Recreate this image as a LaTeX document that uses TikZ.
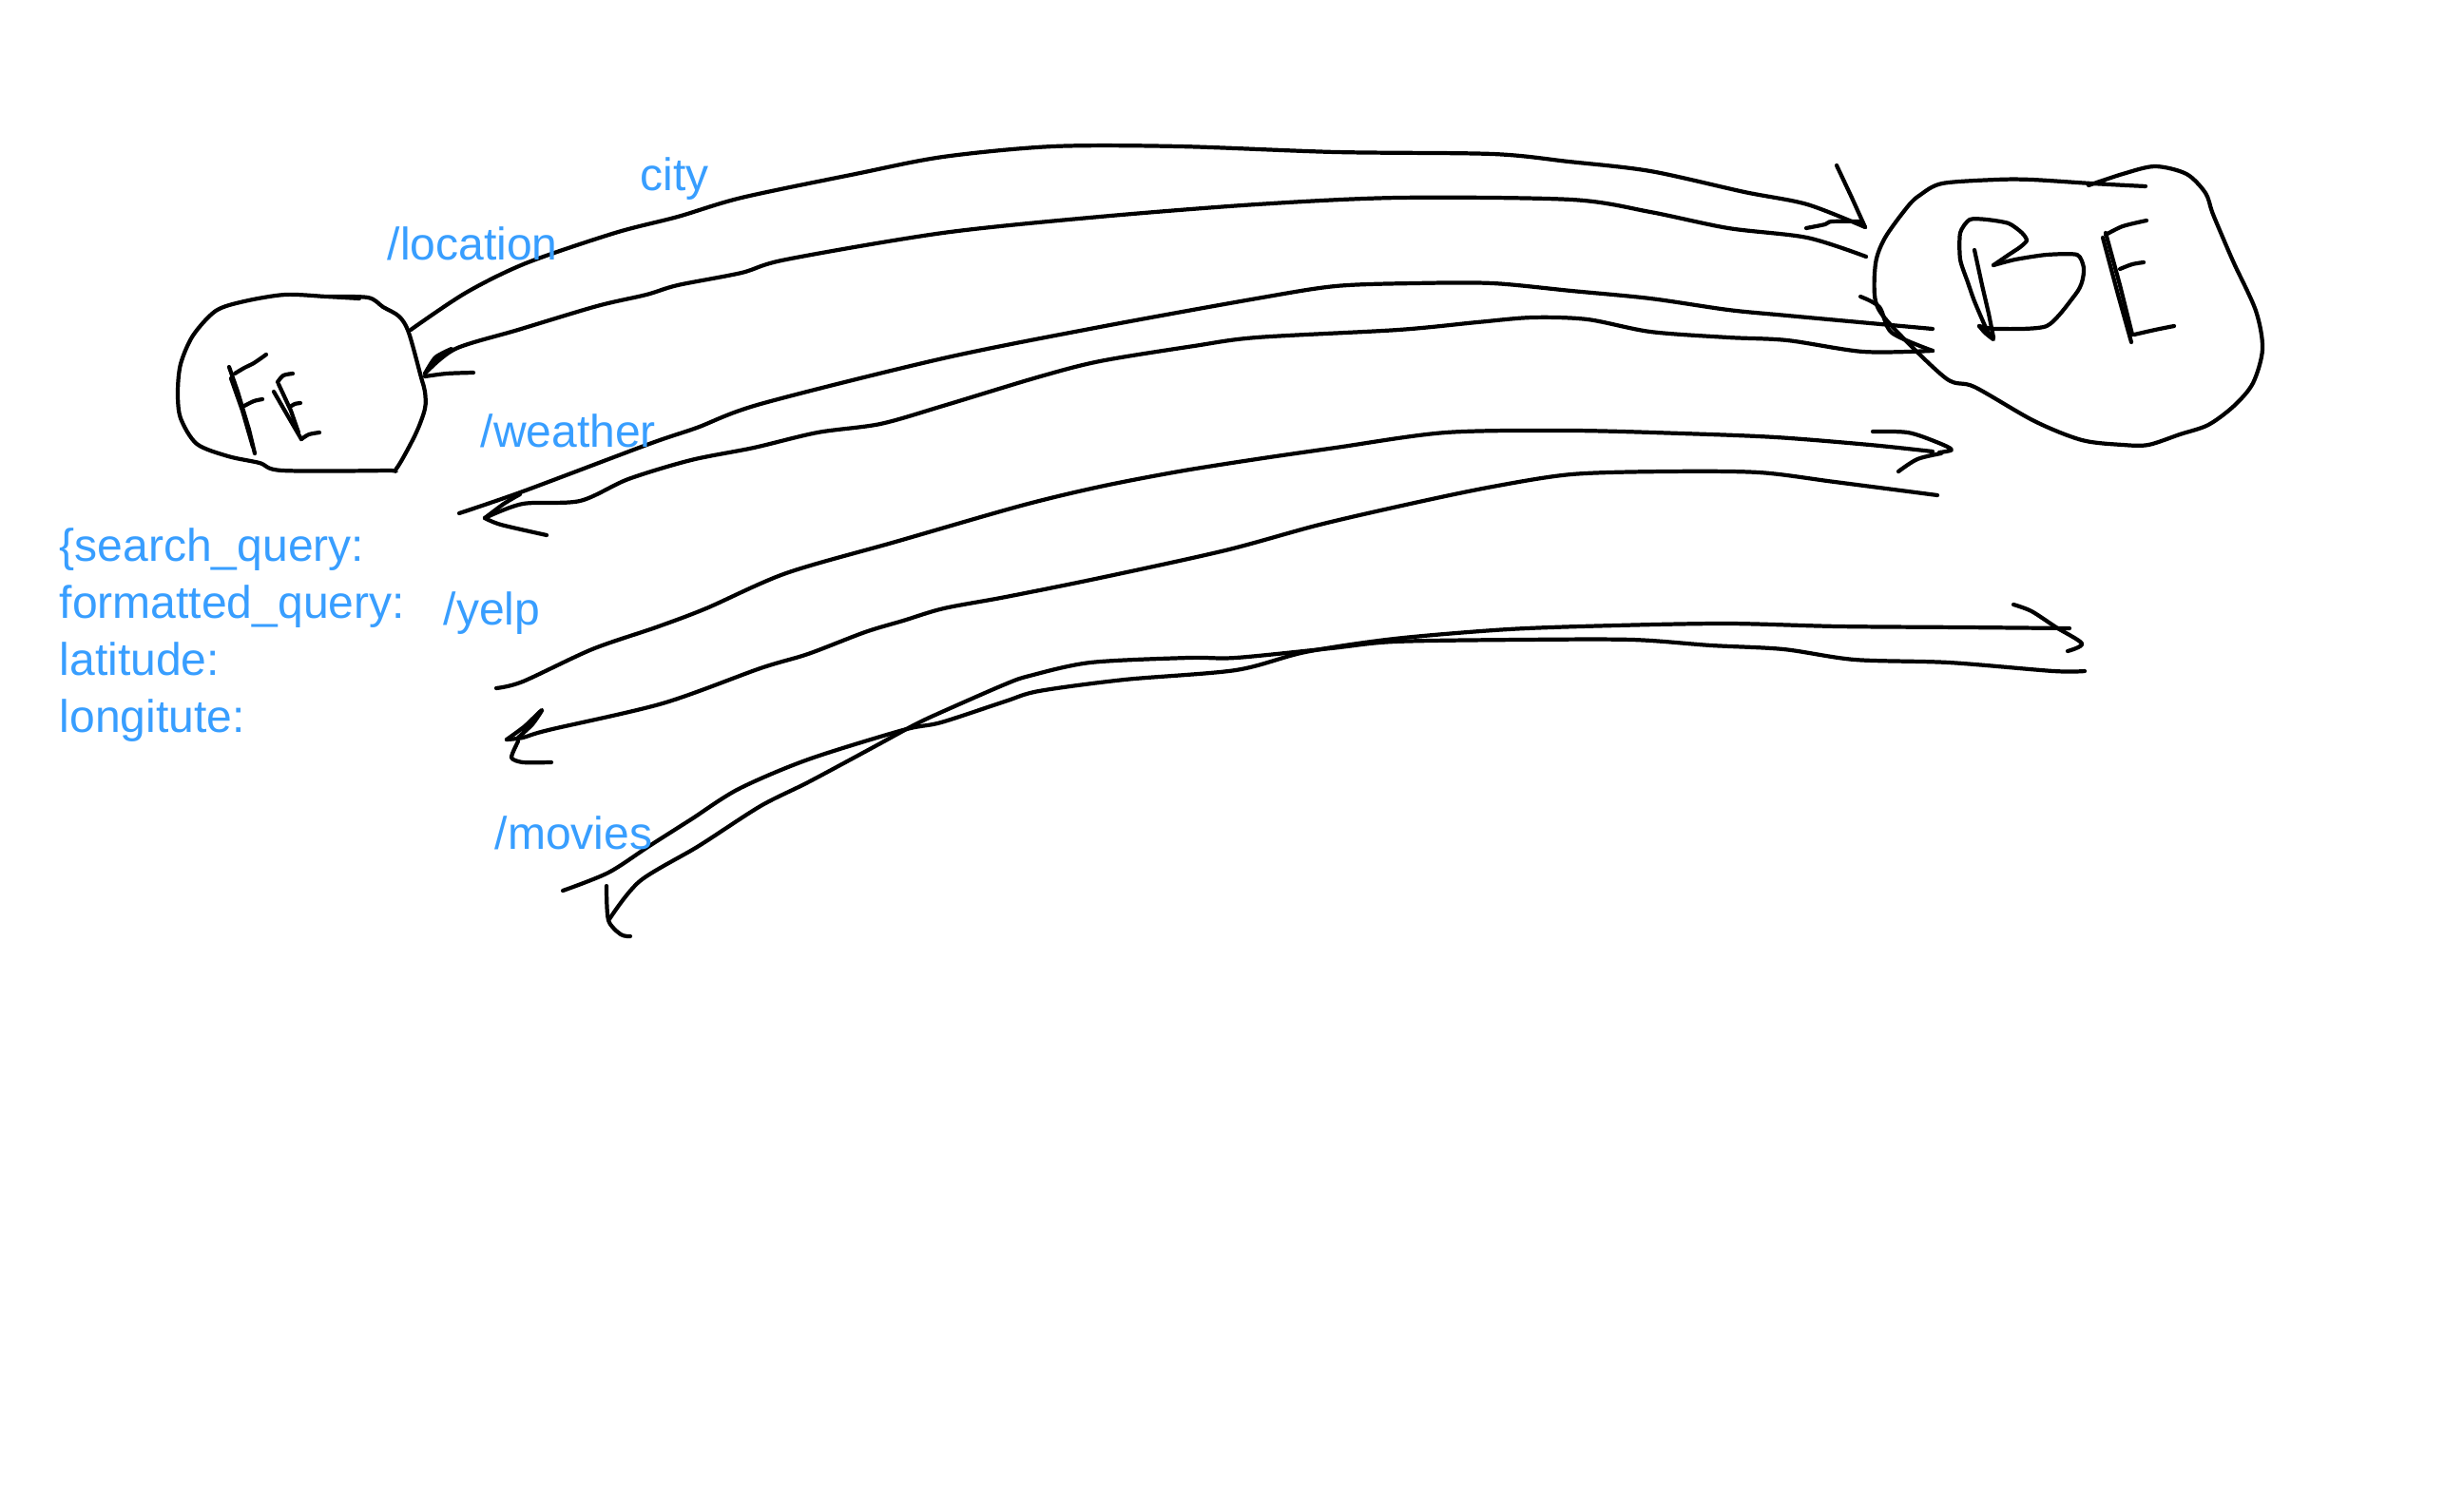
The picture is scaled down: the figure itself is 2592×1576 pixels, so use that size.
\documentclass[tikz,border=0pt]{standalone}
\usepackage{fontspec}
\newfontfamily\labelfont{Liberation Sans}
\definecolor{labelblue}{RGB}{56,158,255}
\begin{document}
\begin{tikzpicture}[x=0.01cm,y=-0.01cm,
  sketch/.style={line width=1.2pt,line cap=round,line join=round},
  lbl/.style={text=labelblue,font=\labelfont\fontsize{13.66}{17}\selectfont,inner sep=0pt,anchor=base west}]
\fill[white] (0,0) rectangle (2592,1576);
\useasboundingbox (0,0) rectangle (2592,1576);

% --- end points of the connectors
\coordinate (FE) at (317,403);
\coordinate (BE) at (2175,320);
\coordinate (locReqS) at (432,347);   \coordinate (locReqE) at (1962,239);
\coordinate (locResS) at (1963,270);  \coordinate (locResE) at (447,393);
\coordinate (weaReqS) at (483,540);   \coordinate (weaReqE) at (2033,346);
\coordinate (weaTip) at (2033,369);   \coordinate (weaResE) at (510,545);
\coordinate (yelReqS) at (522,724);   \coordinate (yelReqE) at (2033,475);
\coordinate (yelResS) at (2038,521);  \coordinate (yelResE) at (533,778);
\coordinate (movReqS) at (592,937);   \coordinate (movReqE) at (2177,661);
\coordinate (movResS) at (2193,706);  \coordinate (movResE) at (641,967);

% --- FE blob
\draw[sketch] plot[smooth,tension=0.5] coordinates {(343,312) (387,313) (403,323) (420,333) (430,350) (443,397) (447,412) (447,430) (437,457) (417,493) (407,495) (297,495) (273,487) (240,480) (207,467) (190,440) (187,413) (190,383) (203,353) (227,327) (257,317) (300,310) (343,312) (378,314)};
% F
\draw[sketch] (241,386) -- (250,412) -- (262,452) -- (268,477);
\draw[sketch] (243,398) -- (255,432) -- (266,470);
\draw[sketch] plot[smooth] coordinates {(247,393) (257,387) (267,382) (280,373)};
\draw[sketch] plot[smooth] coordinates {(257,427) (267,422) (276,420)};
% E
\draw[sketch] (288,412) -- (303,438) -- (317,462);
\draw[sketch] (293,404) -- (306,432) -- (314,455);
\draw[sketch] plot[smooth] coordinates {(292,402) (298,395) (308,393)};
\draw[sketch] plot[smooth] coordinates {(305,428) (310,425) (316,424)};
\draw[sketch] plot[smooth] coordinates {(317,462) (325,457) (336,455)};

% --- BE blob
\draw[sketch] plot[smooth,tension=0.5] coordinates {(2257,196) (2200,193) (2137,189) (2100,189) (2043,193) (2020,205) (2007,217) (1983,250) (1973,277) (1973,317) (1990,343) (2047,398) (2077,407) (2140,443) (2190,463) (2233,468) (2260,468) (2293,457) (2323,447) (2350,427) (2370,403) (2380,367) (2373,327) (2350,277) (2337,247) (2327,223) (2320,203) (2300,183) (2267,175) (2233,183) (2197,195)};
% B
\draw[sketch] (2077,263) -- (2085,300) -- (2092,330) -- (2097,355);
\draw[sketch] plot[smooth,tension=0.4] coordinates {(2082,343) (2088,350) (2097,357) (2090,347) (2077,317) (2070,297) (2062,273) (2062,245) (2072,231) (2090,231) (2113,235) (2127,245) (2132,253) (2125,260) (2113,268) (2097,279)};
\draw[sketch] plot[smooth,tension=0.4] coordinates {(2097,279) (2120,273) (2153,268) (2185,268) (2192,282) (2190,297) (2183,310) (2153,343) (2100,346) (2082,343)};
% E
\draw[sketch] (2212,250) -- (2228,310) -- (2242,360);
\draw[sketch] (2215,245) -- (2230,300) -- (2243,352);
\draw[sketch] plot[smooth] coordinates {(2215,247) (2233,238) (2258,232)};
\draw[sketch] plot[smooth] coordinates {(2230,283) (2243,278) (2255,276)};
\draw[sketch] plot[smooth] coordinates {(2245,352) (2267,347) (2287,343)};

% --- /location request  FE -> BE
\draw[sketch] plot[smooth,tension=0.5] coordinates {(locReqS) (490,308) (553,277) (647,245) (713,228) (780,208) (900,183) (992,165) (1108,154) (1240,154) (1405,160) (1570,162) (1650,170) (1736,180) (1835,202) (1901,215) (locReqE)};
\draw[sketch] (1932,174) -- (1948,208) -- (locReqE);
\draw[sketch] plot[smooth] coordinates {(1900,240) (1920,236) (1927,233) (1957,233)};
% --- /location response  BE -> FE
\draw[sketch] plot[smooth,tension=0.5] coordinates {(locResS) (1901,250) (1818,240) (1736,223) (1653,210) (1471,208) (1322,215) (1157,228) (992,245) (827,273) (780,287) (713,300) (680,310) (628,322) (545,347) (479,367) (locResE)};
\draw[sketch] plot[smooth,tension=0.4] coordinates {(locResE) (458,376) (475,367) (468,373) (452,386)};
\draw[sketch] plot[smooth] coordinates {(447,396) (470,393) (498,392)};

% --- /weather request  FE -> BE
\draw[sketch] plot[smooth,tension=0.5] coordinates {(weaReqS) (550,517) (683,467) (733,450) (800,425) (992,377) (1157,344) (1322,314) (1405,301) (1488,298) (1570,298) (1653,306) (1736,314) (1818,326) (1880,332) (weaReqE)};
\draw[sketch] plot[smooth,tension=0.5] coordinates {(1957,312) (1977,323) (1990,350) (weaTip)};
% --- /weather response  BE -> FE
\draw[sketch] plot[smooth,tension=0.5] coordinates {(weaTip) (1960,370) (1880,358) (1818,355) (1736,349) (1670,336) (1612,334) (1554,339) (1471,347) (1322,355) (1256,364) (1157,380) (1091,397) (992,427) (926,446) (860,455) (793,471) (727,484) (661,504) (610,527) (550,530) (weaResE)};
\draw[sketch] plot[smooth] coordinates {(547,520) (530,530) (weaResE)};
\draw[sketch] plot[smooth] coordinates {(weaResE) (527,552) (575,563)};

% --- /yelp request  FE -> BE
\draw[sketch] plot[smooth,tension=0.5] coordinates {(yelReqS) (550,717) (623,683) (690,660) (743,640) (827,603) (942,570) (1074,532) (1157,512) (1240,496) (1322,483) (1405,471) (1521,455) (1653,453) (1769,456) (1868,460) (1967,468) (yelReqE)};
\draw[sketch] plot[smooth,tension=0.5] coordinates {(1970,454) (2007,455) (2037,465) (2053,473) (2040,476)};
\draw[sketch] plot[smooth] coordinates {(2042,477) (2017,483) (1997,496)};
% --- /yelp response  BE -> FE
\draw[sketch] plot[smooth,tension=0.5] coordinates {(yelResS) (1930,507) (1850,497) (1752,496) (1653,499) (1570,512) (1488,529) (1388,552) (1289,579) (1157,608) (1058,628) (993,640) (950,653) (910,665) (850,688) (800,703) (697,740) (577,768) (550,776) (yelResE)};
\draw[sketch] plot[smooth,tension=0.4] coordinates {(yelResE) (552,764) (570,747) (560,762) (545,776)};
\draw[sketch] plot[smooth,tension=0.4] coordinates {(545,780) (538,797) (550,802) (580,802)};

% --- /movies request  FE -> BE
\draw[sketch] plot[smooth,tension=0.5] coordinates {(movReqS) (640,918) (683,890) (727,862) (777,830) (850,799) (950,768) (990,760) (1057,738) (1093,727) (1183,715) (1300,705) (1373,686) (1467,672) (1587,662) (1700,658) (1818,656) (1934,659) (2066,660) (movReqE)};
\draw[sketch] plot[smooth,tension=0.5] coordinates {(2118,636) (2137,643) (2163,660) (2190,677) (2175,685)};
% --- /movies response  BE -> FE
\draw[sketch] plot[smooth,tension=0.5] coordinates {(movResS) (2160,706) (2050,697) (1951,694) (1876,683) (1800,679) (1717,673) (1600,673) (1467,675) (1400,682) (1300,692) (1250,692) (1147,697) (1083,711) (1057,720) (993,748) (963,762) (917,787) (850,823) (800,848) (735,890) (673,927) (movResE)};
\draw[sketch] plot[smooth] coordinates {(638,932) (640,968) (653,983) (663,985)};

% --- labels
\node[lbl] (city) at (673,200) {city};
\node[lbl] (loc) at (407,273) {/location};
\node[lbl] (wea) at (505,470) {/weather};
\node[lbl] (yelp) at (466,657) {/yelp};
\node[lbl] (mov) at (520,893) {/movies};
\node[lbl] (f1) at (62,590) {\{search\_query:};
\node[lbl] (f2) at (62,650) {formatted\_query:};
\node[lbl] (f3) at (62,710) {latitude:};
\node[lbl] (f4) at (62,770) {longitute:};
\end{tikzpicture}
\end{document}
